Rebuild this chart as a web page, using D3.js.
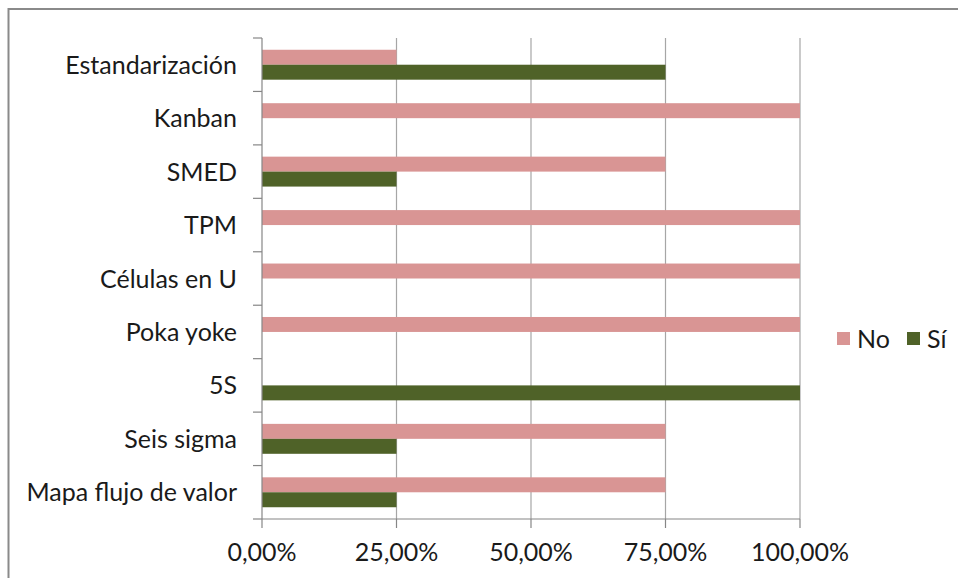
<!DOCTYPE html>
<html><head><meta charset="utf-8">
<script src="https://cdn.jsdelivr.net/npm/d3@7/dist/d3.min.js"></script>
<style>body{margin:0;background:#fff}svg{display:block}text{font-family:Lato,"Open Sans",sans-serif;fill:#1a1a1a}</style>
</head><body><svg id="c" width="958" height="578"></svg>
<script>
const categories = ["Estandarización","Kanban","SMED","TPM","Células en U","Poka yoke","5S","Seis sigma","Mapa flujo de valor"];
const seriesNames = ["No","Sí"];
const noValues = [25,100,75,100,100,100,0,75,75];
const siValues = [75,0,25,0,0,0,100,25,25];
const tickValues = [0,25,50,75,100];
const tickLabels = ["0,00%","25,00%","50,00%","75,00%","100,00%"];
const colors = ["#D99594","#4F6228"];

(function(){
const svg = d3.select("#c");
svg.append("rect").attr("x",8.5).attr("y",9).attr("width",1200).attr("height",1200)
  .attr("fill","#fff").attr("stroke","#8a8a8a").attr("stroke-width",2);

const pL=262,pR=800,pT=38,pB=519;
const x = d3.scaleLinear().domain([0,100]).range([pL,pR]);
const y = d3.scaleBand().domain(categories).range([pT,pB]).paddingInner(0.44).paddingOuter(0.22);
const ys = d3.scaleBand().domain(seriesNames).range([0,y.bandwidth()]);
const step = y.step();

// gridlines
svg.append("g").selectAll("line").data(tickValues.slice(1)).join("line")
  .attr("x1",d=>x(d)).attr("x2",d=>x(d)).attr("y1",pT).attr("y2",pB)
  .attr("stroke","#a6a6a6").attr("stroke-width",1.2);

// bars
const data = categories.map((c,i)=>({c, vals:[noValues[i],siValues[i]]}));
const g = svg.append("g");
data.forEach(d=>{
  seriesNames.forEach((s,j)=>{
    if(d.vals[j]>0) g.append("rect")
      .attr("x",x(0)).attr("y",y(d.c)+ys(s))
      .attr("width",x(d.vals[j])-x(0)).attr("height",ys.bandwidth())
      .attr("fill",colors[j]);
  });
});

// y axis
const ax = svg.append("g").attr("stroke","#868686").attr("stroke-width",1.2);
ax.append("line").attr("x1",pL).attr("x2",pL).attr("y1",pT).attr("y2",pB);
const bounds = d3.range(categories.length+1).map(i=>pT+i*step);
ax.selectAll(".yt").data(bounds).join("line").attr("x1",pL-9).attr("x2",pL).attr("y1",d=>d).attr("y2",d=>d);
// x axis
ax.append("line").attr("x1",pL).attr("x2",pR).attr("y1",pB).attr("y2",pB);
ax.selectAll(".xt").data(tickValues).join("line").attr("x1",d=>x(d)).attr("x2",d=>x(d)).attr("y1",pB).attr("y2",pB+9);

// labels
svg.append("g").selectAll("text").data(categories).join("text")
  .attr("x",237).attr("y",d=>y(d)+y.bandwidth()/2).attr("dy","0.36em")
  .attr("text-anchor","end").attr("font-size",25).text(d=>d);
svg.append("g").selectAll("text").data(tickValues).join("text")
  .attr("x",d=>x(d)).attr("y",561).attr("text-anchor","middle").attr("font-size",25)
  .text((d,i)=>tickLabels[i]);

// legend
const lg = svg.append("g");
const lx=[837,907];
seriesNames.forEach((s,j)=>{
  lg.append("rect").attr("x",lx[j]).attr("y",332).attr("width",13).attr("height",13).attr("fill",colors[j]);
  lg.append("text").attr("x",lx[j]+20).attr("y",338.5).attr("dy","0.36em").attr("font-size",25).text(s);
});
})();
</script></body></html>
